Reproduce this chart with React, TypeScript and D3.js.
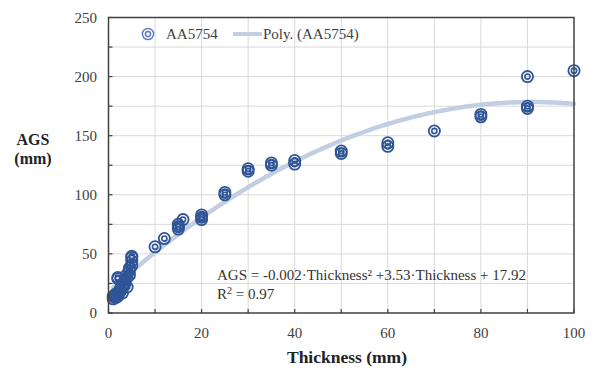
import React from "react";
import * as d3 from "d3";

const thickness: number[] = [1, 1, 1.5, 1.5, 1.5, 2, 2, 2, 2, 2.5, 2.5, 3, 3, 3, 3.5, 3.5, 4, 4, 4, 4.5, 4.5, 4.5, 5, 5, 5, 5, 10, 12, 15, 15, 15, 16, 20, 20, 20, 25, 25, 30, 30, 35, 35, 40, 40, 50, 50, 60, 60, 70, 80, 80, 90, 90, 90, 100];
const ags: number[] = [12, 14, 13, 16, 15, 14, 17, 30, 29, 18, 20, 17, 22, 24, 25, 28, 22, 30, 33, 32, 36, 38, 40, 44, 47, 48, 56, 63, 71, 73, 75, 79, 79, 81, 83, 100, 102, 120, 122, 125, 127, 126, 129, 135, 137, 141, 144, 154, 166, 168, 173, 175, 200, 205];
const polyCoef: number[] = [-0.0194, 3.53, 17.92]; // a, b, c
const xTicks: number[] = [0, 20, 40, 60, 80, 100];
const yTicks: number[] = [0, 50, 100, 150, 200, 250];
const seriesName = "AA5754";
const trendName = "Poly. (AA5754)";
const equation = "AGS = -0.002·Thickness² +3.53·Thickness + 17.92";
const r2Label = "= 0.97";

const W = 595, H = 370;
const L = 108.5, R = 574, T = 17.5, B = 313;
const FONT = "'Liberation Serif', serif";
const BLUE = "#2F5597";

export default function App() {
  const x = d3.scaleLinear().domain([0, 100]).range([L, R]);
  const y = d3.scaleLinear().domain([0, 250]).range([B, T]);
  const minX = d3.min(thickness) as number;
  const maxX = d3.max(thickness) as number;
  const curveXs = d3.range(minX, maxX + 0.001, 0.5);
  const line = d3.line<number>()
    .x((v) => x(v))
    .y((v) => y(polyCoef[0] * v * v + polyCoef[1] * v + polyCoef[2]))
    .curve(d3.curveMonotoneX);
  const vGrid = d3.range(10, 100, 10);
  const hGrid = d3.range(25, 250, 25);
  const marker = (cx: number, cy: number, k: number) => (
    <g key={k}>
      <circle cx={cx} cy={cy} r={5.6} fill="none" stroke={BLUE} strokeWidth={1.8} />
      <circle cx={cx} cy={cy} r={2.6} fill="none" stroke={BLUE} strokeWidth={1.6} />
    </g>
  );
  return (
    <svg width={W} height={H} style={{ position: "absolute", left: 0, top: 0, background: "white" }} fontFamily={FONT}>
      <rect x={0} y={0} width={W} height={H} fill="white" />
      {vGrid.map((v) => (
        <line key={"v" + v} x1={x(v)} x2={x(v)} y1={T} y2={B} stroke="#D9D9D9" strokeWidth={1} />
      ))}
      {hGrid.map((v) => (
        <line key={"h" + v} x1={L} x2={R} y1={y(v)} y2={y(v)} stroke="#D9D9D9" strokeWidth={1} />
      ))}
      <path d={line(curveXs) || ""} fill="none" stroke="#C2CEE2" strokeWidth={4.5} strokeLinecap="round" />
      {thickness.map((t, i) => marker(x(t), y(ags[i]), i))}
      <rect x={L} y={T} width={R - L} height={B - T} fill="none" stroke="#404040" strokeWidth={1.5} />
      {d3.range(0, 101, 10).map((v) => (
        <line key={"xt" + v} x1={x(v)} x2={x(v)} y1={B} y2={B - 4} stroke="#404040" strokeWidth={1.2} />
      ))}
      {d3.range(0, 251, 25).map((v) => (
        <line key={"yt" + v} x1={L} x2={L + 4} y1={y(v)} y2={y(v)} stroke="#404040" strokeWidth={1.2} />
      ))}
      {xTicks.map((v) => (
        <text key={"xl" + v} x={x(v)} y={338} textAnchor="middle" fontSize={15} fill="#404040">{v}</text>
      ))}
      {yTicks.map((v) => (
        <text key={"yl" + v} x={97} y={y(v) + 5} textAnchor="end" fontSize={15} fill="#404040">{v}</text>
      ))}
      <text x={347} y={363} textAnchor="middle" fontSize={17.5} fontWeight="bold" fill="#222">Thickness (mm)</text>
      <text x={33} y={145} textAnchor="middle" fontSize={16} fontWeight="bold" fill="#222">AGS</text>
      <text x={33} y={164} textAnchor="middle" fontSize={16} fontWeight="bold" fill="#222">(mm)</text>
      {/* legend */}
      <g>
        <circle cx={148} cy={34} r={5.6} fill="none" stroke="#5B7DBF" strokeWidth={1.5} />
        <circle cx={148} cy={34} r={2.6} fill="none" stroke="#5B7DBF" strokeWidth={1.5} />
        <text x={166} y={39} fontSize={15} fill="#404040">{seriesName}</text>
        <line x1={233} x2={262} y1={34} y2={34} stroke="#C2CEE2" strokeWidth={4} />
        <text x={263} y={39} fontSize={15} fill="#404040">{trendName}</text>
      </g>
      <text x={217} y={280} fontSize={15} fill="#333">{equation}</text>
      <text x={217} y={299} fontSize={15} fill="#333">R<tspan dy={-5} fontSize={10}>2</tspan><tspan dy={5}> {r2Label}</tspan></text>
    </svg>
  );
}
